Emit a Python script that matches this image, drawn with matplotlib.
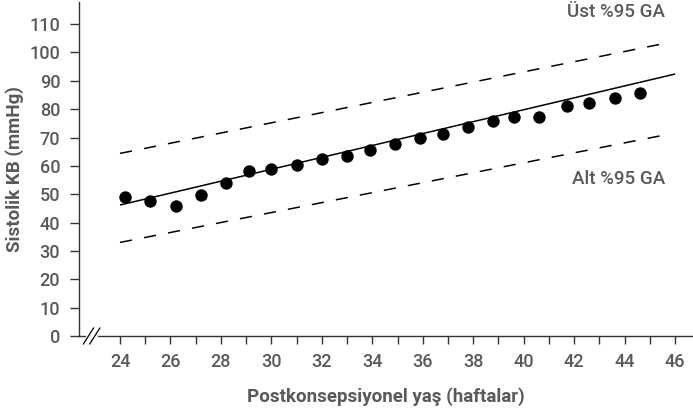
import matplotlib.pyplot as plt
import numpy as np

# postconceptional age (weeks) vs systolic BP (mmHg)
age_weeks = [24.2, 25.2, 26.2, 27.2, 28.2, 29.1, 30.0, 31.0, 32.0, 33.0, 33.9,
             34.9, 35.9, 36.8, 37.8, 38.8, 39.6, 40.6, 41.7, 42.6, 43.6, 44.6]
systolic = [48.9, 47.6, 45.9, 49.7, 54.1, 58.2, 58.8, 60.3, 62.3, 63.5, 65.5,
            67.6, 69.7, 71.3, 73.8, 75.8, 77.1, 77.1, 81.2, 82.3, 83.9, 85.8]

fit_x = [24, 46]
fit_y = [46.2, 92.4]
ci_x = [24, 45.7]
ci_upper = [64.4, 103.4]
ci_lower = [33.0, 71.1]

y_ticks = list(range(0, 111, 10))
x_major = list(range(24, 47, 2))
x_minor = list(range(25, 46, 2))

TEXT = '#58595b'


def main():
    plt.rcParams['font.family'] = ['Roboto', 'DejaVu Sans']
    fig = plt.figure(figsize=(6.93, 4.09), dpi=100)
    ax = fig.add_axes([79 / 693, 73 / 409, 614 / 693, 334 / 409])

    ax.plot(fit_x, fit_y, color='black', lw=1.1, solid_capstyle='butt')
    ax.plot(ci_x, ci_upper, color='black', lw=1.1, dashes=(8, 8))
    ax.plot(ci_x, ci_lower, color='black', lw=1.1, dashes=(8, 8))
    ax.scatter(age_weeks, systolic, s=80, color='black', zorder=3, linewidths=0)

    ax.text(45.6, 114.3, 'Üst %95 GA', ha='right', va='center', fontsize=13.5,
            fontweight='medium', color=TEXT)
    ax.text(45.6, 55.5, 'Alt %95 GA', ha='right', va='center', fontsize=13.5,
            fontweight='medium', color=TEXT)

    ax.set_xlim(22.375, 46.71)
    ax.set_ylim(0, 117.8)
    ax.set_yticks(y_ticks)
    ax.set_xticks(x_major)
    ax.set_xticks(x_minor, minor=True)

    for side in ['top', 'right']:
        ax.spines[side].set_visible(False)
    for side in ['left', 'bottom']:
        ax.spines[side].set_color('#333333')
        ax.spines[side].set_linewidth(1.0)

    ax.tick_params(axis='y', length=6.5, width=1.0, color='#333333', pad=7,
                   labelsize=13, labelcolor=TEXT)
    ax.tick_params(axis='x', which='both', length=6, width=1.0, color='#333333',
                   pad=6, labelsize=13, labelcolor=TEXT)
    for lbl in ax.get_xticklabels() + ax.get_yticklabels():
        lbl.set_fontweight('medium')

    ax.set_ylabel('Sistolik KB (mmHg)', fontsize=13.5, fontweight='bold', color=TEXT, labelpad=4)
    ax.set_xlabel('Postkonsepsiyonel yaş (haftalar)', fontsize=13.5, fontweight='bold',
                  color=TEXT, labelpad=12)

    # axis break mark "//"
    for x0 in [22.55, 22.8]:
        ax.plot([x0, x0 + 0.4], [-2.8, 2.8], color='black', lw=0.9, clip_on=False, zorder=4)
    ax.plot([22.68, 23.05], [0, 0], color='white', lw=2.0, clip_on=False, zorder=3.5)

    fig.savefig('out.png', dpi=100)


if __name__ == '__main__':
    main()
